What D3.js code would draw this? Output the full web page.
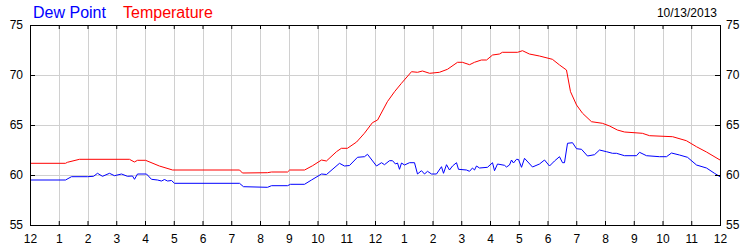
<!DOCTYPE html>
<html lang="en">
<head>
<meta charset="utf-8">
<script src="https://cdn.jsdelivr.net/npm/d3@7"></script>
<title>Dew Point and Temperature 10/13/2013</title>
<style>
  body { margin: 0; background: #fff; }
  text { font-family: Arial, "Liberation Sans", sans-serif; }
</style>
</head>
<body>
<div id="chart"></div>
<script>
// hours since midnight, degrees F
var tempHours = [0, 1.235, 1.30, 1.72, 3.46, 3.63, 3.74, 4.02, 4.50, 4.96, 7.29, 7.39, 8.26, 8.40, 8.96,
  9.03, 9.55, 9.83, 10.14, 10.31, 10.66, 10.83, 11.04, 11.36, 11.63, 11.91, 12.09, 12.43, 12.68,
  12.92, 13.27, 13.48, 13.65, 13.90, 14.24, 14.52, 14.87, 15.04, 15.29, 15.46, 15.70, 15.88, 16.09,
  16.33, 16.43, 16.96, 17.13, 17.37, 17.72, 18.17, 18.42, 18.66, 18.80, 19.01, 19.22, 19.53, 19.91,
  20.16, 20.43, 20.68, 21.30, 21.55, 22.35, 22.83, 23.18, 23.53, 24];
var tempValues = [61.17, 61.17, 61.27, 61.57, 61.57, 61.3, 61.47, 61.47, 60.9, 60.5, 60.5, 60.2, 60.23, 60.3, 60.3,
  60.5, 60.5, 60.93, 61.5, 61.4, 62.33, 62.67, 62.67, 63.3, 64.17, 65.23, 65.5, 67.33, 68.33,
  69.17, 70.33, 70.27, 70.4, 70.17, 70.27, 70.57, 71.27, 71.27, 71.03, 71.27, 71.5, 71.5, 72.0,
  72.1, 72.27, 72.27, 72.43, 72.1, 71.9, 71.57, 71.0, 70.5, 68.33, 67.0, 66.17, 65.33, 65.17,
  64.9, 64.5, 64.3, 64.17, 63.93, 63.83, 63.43, 62.83, 62.3, 61.5];

var dewHours = [0, 1.235, 1.443, 2.0, 2.209, 2.348, 2.522, 2.765, 2.939, 3.183, 3.391, 3.565, 3.635, 3.739,
  4.052, 4.226, 4.435, 4.574, 4.678, 4.783, 4.922, 5.026, 7.287, 7.426, 8.261, 8.4, 8.957, 9.061,
  9.548, 9.791, 10.139, 10.313, 10.765, 10.939, 11.113, 11.391, 11.635, 11.739, 12.052, 12.226,
  12.33, 12.504, 12.609, 12.713, 12.783, 12.852, 12.922, 13.026, 13.2, 13.374, 13.478, 13.617,
  13.722, 13.826, 13.965, 14.139, 14.313, 14.383, 14.487, 14.591, 14.696, 14.835, 14.904, 15.183,
  15.287, 15.391, 15.461, 15.53, 15.635, 15.913, 16.087, 16.157, 16.261, 16.504, 16.574, 16.678,
  16.748, 16.817, 16.922, 16.991, 17.096, 17.2, 17.478, 17.722, 17.896, 18.07, 18.243, 18.417,
  18.522, 18.591, 18.696, 18.87, 19.009, 19.183, 19.391, 19.635, 19.809, 20.052, 20.261, 20.4,
  20.678, 21.096, 21.2, 21.443, 21.896, 22.139, 22.313, 22.591, 22.87, 23.183, 23.53, 23.809, 24];
var dewValues = [59.5, 59.5, 59.83, 59.83, 59.87, 60.17, 59.87, 60.17, 59.93, 60.1, 59.87, 59.9, 59.57, 60.1,
  60.1, 59.57, 59.5, 59.4, 59.55, 59.4, 59.45, 59.17, 59.17, 58.83, 58.77, 58.93, 58.93, 59.07,
  59.07, 59.5, 60.1, 60.05, 61.17, 60.9, 60.95, 61.77, 61.83, 62.07, 60.9, 61.23,
  61.03, 61.43, 61.43, 61.1, 61.2, 60.57, 61.2, 61.0, 61.23, 61.23, 60.1, 60.43,
  60.1, 60.37, 60.1, 60.1, 60.83, 60.17, 61.03, 60.5, 60.9, 61.23, 60.57, 60.5,
  60.37, 60.7, 60.5, 60.9, 60.7, 60.77, 61.23, 60.43, 61.1, 60.97, 60.8, 61.0,
  61.5, 61.2, 61.57, 61.55, 60.77, 61.67, 60.8, 61.1, 61.5, 60.9, 61.4, 61.83,
  61.23, 61.23, 63.17, 63.23, 62.63, 62.57, 61.9, 62.03, 62.5, 62.33, 62.17, 62.17,
  61.93, 61.93, 62.27, 61.93, 61.83, 61.83, 62.2, 62.0, 61.77, 61.0, 60.7, 60.17, 59.83];

var hourTicks = d3.range(0, 25);
var yTicks = [55, 60, 65, 70, 75];
var seriesNames = ["Dew Point", "Temperature"];
var seriesColors = ["#0000ff", "#ff0000"];
var dateLabel = "10/13/2013";

var width = 750, height = 250;
// plot box (named to avoid clashing with window.top)
var plotL = 30, plotR = 720, plotT = 25, plotB = 225;

var svg = d3.select("#chart").append("svg")
  .attr("width", width)
  .attr("height", height);

var x = d3.scaleLinear().domain([0, 24]).range([plotL, plotR]);
var y = d3.scaleLinear().domain([55, 75]).range([plotB, plotT]);

var hourFmt = function(h) { return h % 12 === 0 ? "12" : String(h % 12); };

// grid
var grid = svg.append("g");
grid.selectAll(".vg")
  .data(hourTicks.slice(1, -1))
  .enter().append("line")
  .attr("x1", function(d) { return Math.round(x(d)) + 0.5; })
  .attr("x2", function(d) { return Math.round(x(d)) + 0.5; })
  .attr("y1", plotT).attr("y2", plotB)
  .style("stroke", "#d0d0d0");
grid.selectAll(".hg")
  .data(yTicks.slice(1, -1))
  .enter().append("line")
  .attr("y1", function(d) { return y(d) + 0.5; })
  .attr("y2", function(d) { return y(d) + 0.5; })
  .attr("x1", plotL).attr("x2", plotR)
  .style("stroke", "#d0d0d0");

// lines
var line = d3.line()
  .x(function(d) { return x(d[0]); })
  .y(function(d) { return y(d[1]); });

svg.append("path")
  .datum(d3.zip(tempHours, tempValues))
  .attr("d", line)
  .style("fill", "none")
  .style("stroke", seriesColors[1])
  .style("stroke-width", 1);

svg.append("path")
  .datum(d3.zip(dewHours, dewValues))
  .attr("d", line)
  .style("fill", "none")
  .style("stroke", seriesColors[0])
  .style("stroke-width", 1);

// axes
var fontSize = "12px";
var xb = svg.append("g")
  .attr("transform", "translate(0," + plotB + ")")
  .call(d3.axisBottom(x).tickValues(hourTicks).tickFormat(hourFmt).tickSize(-4).tickPadding(9));
var xt = svg.append("g")
  .attr("transform", "translate(0," + plotT + ")")
  .call(d3.axisTop(x).tickValues(hourTicks).tickFormat("").tickSize(-4));
var yl = svg.append("g")
  .attr("transform", "translate(" + plotL + ",0)")
  .call(d3.axisLeft(y).tickValues(yTicks).tickSize(-5).tickPadding(7));
var yr = svg.append("g")
  .attr("transform", "translate(" + plotR + ",0)")
  .call(d3.axisRight(y).tickValues(yTicks).tickSize(-5).tickPadding(6));

[xb, xt, yl, yr].forEach(function(g) {
  g.select(".domain").remove();
  g.selectAll("line").style("stroke", "#000");
  g.selectAll("text")
    .style("font-family", "Arial, 'Liberation Sans', sans-serif")
    .style("font-size", fontSize)
    .style("fill", "#000");
});

// frame
svg.append("rect")
  .attr("x", plotL + 0.5).attr("y", plotT + 0.5)
  .attr("width", plotR - plotL).attr("height", plotB - plotT)
  .style("fill", "none")
  .style("stroke", "#000");

// legend + date
svg.append("text")
  .attr("x", 33).attr("y", 18)
  .style("font-size", "16px")
  .style("fill", seriesColors[0])
  .text(seriesNames[0]);
svg.append("text")
  .attr("x", 123).attr("y", 18)
  .style("font-size", "16px")
  .style("fill", seriesColors[1])
  .text(seriesNames[1]);
svg.append("text")
  .attr("x", 717).attr("y", 17)
  .attr("text-anchor", "end")
  .style("font-size", "12px")
  .style("fill", "#000")
  .text(dateLabel);
</script>
</body>
</html>
